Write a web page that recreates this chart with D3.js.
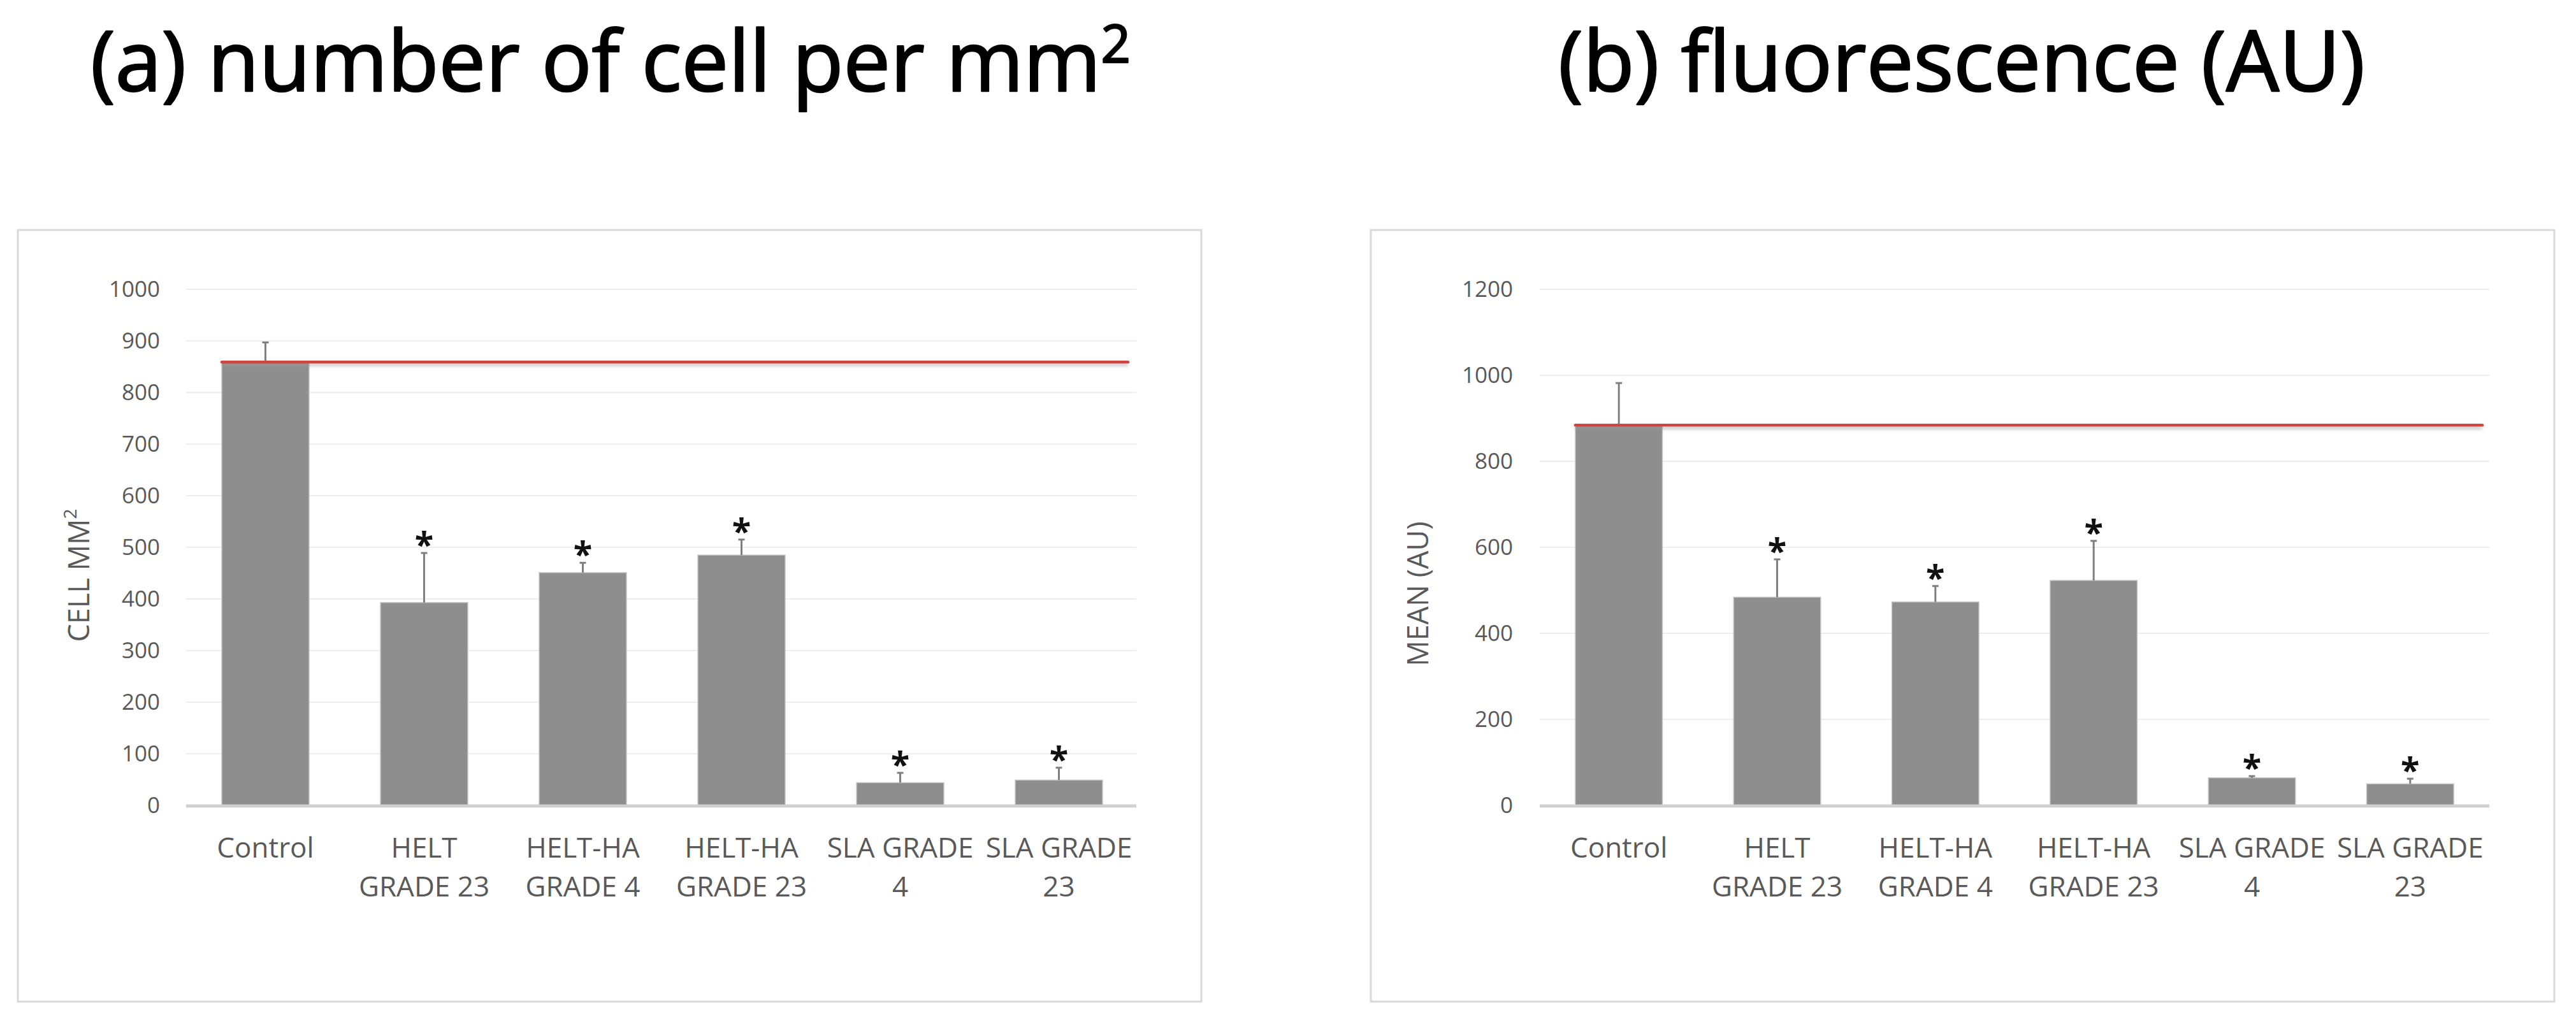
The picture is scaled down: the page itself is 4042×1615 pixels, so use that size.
<!DOCTYPE html>
<html>
<head>
<meta charset="utf-8">
<script src="https://cdn.jsdelivr.net/npm/d3@7"></script>
<style>
  html, body { margin: 0; padding: 0; background: #ffffff; }
  svg { display: block; }
  text { font-family: "Open Sans", "Noto Sans", sans-serif; }
</style>
</head>
<body>
<svg id="chart" width="4042" height="1615"></svg>
<script>
// ---------- data ----------
const categories = ["Control", "HELT GRADE 23", "HELT-HA GRADE 4", "HELT-HA GRADE 23", "SLA GRADE 4", "SLA GRADE 23"];
const categoryLines = [["Control"], ["HELT", "GRADE 23"], ["HELT-HA", "GRADE 4"], ["HELT-HA", "GRADE 23"], ["SLA GRADE", "4"], ["SLA GRADE", "23"]];
const significant = [false, true, true, true, true, true];

const cellValues = [859, 393, 451, 485, 44, 49];
const cellErrors = [38, 96, 19, 30, 19, 24];
const cellControlLevel = 859;
const cellTicks = [0, 100, 200, 300, 400, 500, 600, 700, 800, 900, 1000];

const fluoValues = [884, 484, 473, 523, 64, 50];
const fluoErrors = [98, 88, 37, 92, 4, 12];
const fluoControlLevel = 884;
const fluoTicks = [0, 200, 400, 600, 800, 1000, 1200];

const panelTitles = ["(a) number of cell per mm", "(b) fluorescence (AU)"];
const panelTitleSup = ["2", ""];
const axisTitles = ["CELL MM", "MEAN (AU)"];
const axisTitleSup = ["2", ""];

// ---------- drawing ----------
const svg = d3.select("#chart");
const defs = svg.append("defs");
defs.append("filter").attr("id", "blur").attr("filterUnits", "userSpaceOnUse")
  .attr("x", 0).attr("y", 0).attr("width", 4042).attr("height", 1615)
  .append("feGaussianBlur").attr("stdDeviation", 2.5);

function drawPanel(p) {
  const g = svg.append("g");

  // frame
  g.append("rect")
    .attr("x", p.box[0]).attr("y", p.box[1])
    .attr("width", p.box[2]).attr("height", p.box[3])
    .attr("fill", "#ffffff").attr("stroke", "#d9d9d9").attr("stroke-width", 3);

  const x = d3.scaleBand().domain(categories).range([p.plotLeft, p.plotRight]).padding(0);
  const y = d3.scaleLinear().domain([0, p.yMax]).range([p.plotBottom, p.plotTop]);
  const barW = x.step() * 0.55;
  const cx = c => x(c) + x.bandwidth() / 2;

  // gridlines
  g.append("g").selectAll("line").data(p.ticks.filter(t => t > 0)).join("line")
    .attr("x1", p.plotLeft).attr("x2", p.gridRight)
    .attr("y1", d => y(d)).attr("y2", d => y(d))
    .attr("stroke", "#eeeeee").attr("stroke-width", 2);

  // y axis labels
  const yAxis = d3.axisLeft(y).tickValues(p.ticks).tickSize(0).tickPadding(p.plotLeft - p.tickRight)
    .tickFormat(d3.format("d"));
  const ya = g.append("g").attr("transform", `translate(${p.plotLeft},0)`).call(yAxis);
  ya.select(".domain").remove();
  ya.selectAll("text").attr("font-size", 35).attr("fill", "#595959")
    .attr("font-family", "'Open Sans', sans-serif");

  // bars
  g.append("g").selectAll("rect").data(p.values).join("rect")
    .attr("x", (d, i) => cx(categories[i]) - barW / 2)
    .attr("width", barW)
    .attr("y", d => y(d))
    .attr("height", d => y(0) - y(d))
    .attr("fill", "#8e8e8e").attr("stroke", "#c4c4c4").attr("stroke-width", 1.5);

  // baseline
  g.append("line").attr("x1", p.plotLeft).attr("x2", p.gridRight)
    .attr("y1", y(0) + 1).attr("y2", y(0) + 1)
    .attr("stroke", "#d0d0d0").attr("stroke-width", 5);

  // error bars
  const eb = g.append("g").attr("stroke", "#7f7f7f").attr("stroke-width", 3);
  p.values.forEach((v, i) => {
    const xc = cx(categories[i]);
    eb.append("line").attr("x1", xc).attr("x2", xc).attr("y1", y(v)).attr("y2", y(v + p.errors[i]));
    eb.append("line").attr("x1", xc - 5).attr("x2", xc + 5).attr("y1", y(v + p.errors[i])).attr("y2", y(v + p.errors[i]));
  });

  // control reference line (with soft shadow)
  const rx1 = cx(categories[0]) - barW / 2;
  g.append("line")
    .attr("x1", rx1).attr("x2", p.redRight)
    .attr("y1", y(p.control) + 4).attr("y2", y(p.control) + 4)
    .attr("stroke", "#9a9a9a").attr("stroke-opacity", 0.55).attr("stroke-width", 5)
    .attr("filter", "url(#blur)");
  g.append("line")
    .attr("x1", rx1).attr("x2", p.redRight)
    .attr("y1", y(p.control)).attr("y2", y(p.control))
    .attr("stroke", "#cf4541").attr("stroke-width", 4.5).attr("stroke-linecap", "round");

  // significance asterisks
  g.append("g").selectAll("text").data(p.values.map((v, i) => ({ v, i })).filter(d => significant[d.i])).join("text")
    .attr("x", d => cx(categories[d.i]))
    .attr("y", d => y(d.v + p.errors[d.i]) + 6)
    .attr("text-anchor", "middle").attr("font-size", 54).attr("font-weight", "bold")
    .attr("fill", "#111").text("*");

  // category labels
  const lab = g.append("g");
  categoryLines.forEach((lines, i) => {
    const t = lab.append("text").attr("text-anchor", "middle").attr("font-size", 44).attr("fill", "#595959");
    lines.forEach((ln, j) => {
      t.append("tspan").attr("x", cx(categories[i])).attr("y", y(0) + 82 + j * 61).text(ln);
    });
  });

  // axis title (rotated)
  const at = g.append("text")
    .attr("transform", `translate(${p.axisTitleX},${p.axisTitleY}) rotate(-90)`)
    .attr("text-anchor", "middle").attr("font-size", 45).attr("fill", "#595959");
  at.append("tspan").text(p.axisTitle);
  if (p.axisSup) at.append("tspan").attr("font-size", 28).attr("dy", -20).text(p.axisSup);

  // panel title: Calibri-like proportions (condensed to the measured width, slightly heavier)
  const fs = 132;
  const tg = svg.append("g");
  const tt = tg.append("text")
    .attr("x", 0).attr("y", 0)
    .attr("text-anchor", "middle").attr("font-size", fs).attr("fill", "#000")
    .attr("stroke", "#000").attr("stroke-width", 2.5).attr("stroke-linejoin", "round");
  tt.append("tspan").text(p.title);
  if (p.titleSup) tt.append("tspan").attr("font-size", fs * 0.62).attr("dy", -fs * 0.34).text(p.titleSup);
  const w = tt.node().getComputedTextLength();
  const sx = p.titleWidth / w;
  tg.attr("transform", `translate(${p.titleX},${p.titleBaseline}) scale(${sx},1)`);
}

drawPanel({
  box: [28, 361, 1857, 1211],
  plotLeft: 292, plotRight: 1786, gridRight: 1783, plotTop: 454, plotBottom: 1264,
  tickRight: 251, redRight: 1770,
  yMax: 1000, ticks: cellTicks,
  values: cellValues, errors: cellErrors, control: cellControlLevel,
  axisTitle: axisTitles[0], axisSup: axisTitleSup[0], axisTitleX: 140, axisTitleY: 903,
  title: panelTitles[0], titleSup: panelTitleSup[0], titleX: 958, titleBaseline: 143, titleWidth: 1632
});

drawPanel({
  box: [2151, 361, 1857, 1211],
  plotLeft: 2416, plotRight: 3906, gridRight: 3906, plotTop: 454, plotBottom: 1264,
  tickRight: 2374, redRight: 3895,
  yMax: 1200, ticks: fluoTicks,
  values: fluoValues, errors: fluoErrors, control: fluoControlLevel,
  axisTitle: axisTitles[1], axisSup: axisTitleSup[1], axisTitleX: 2241, axisTitleY: 932,
  title: panelTitles[1], titleSup: panelTitleSup[1], titleX: 3078, titleBaseline: 143, titleWidth: 1266
});
</script>
</body>
</html>
